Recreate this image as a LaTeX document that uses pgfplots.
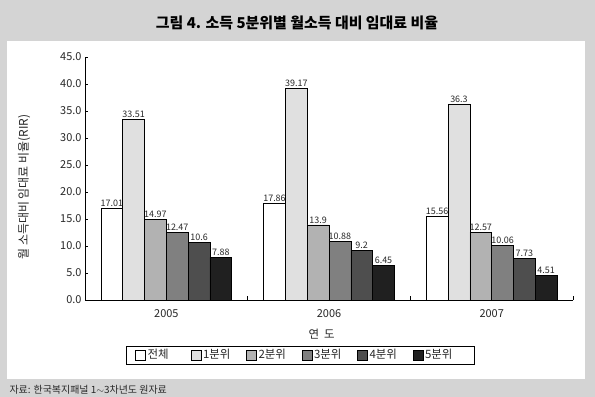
\documentclass[border=0pt]{standalone}
\usepackage{pgfplots}
\pgfplotsset{compat=1.18}
\usepackage{fontspec}
\setmainfont{Noto Sans CJK KR}
\definecolor{bgcol}{RGB}{212,212,212}
\definecolor{txt}{RGB}{40,40,40}
\definecolor{c1}{RGB}{255,255,255}
\definecolor{c2}{RGB}{224,224,224}
\definecolor{c3}{RGB}{178,178,178}
\definecolor{c4}{RGB}{128,128,128}
\definecolor{c5}{RGB}{78,78,78}
\definecolor{c6}{RGB}{32,32,32}
\begin{document}
\begin{tikzpicture}
\useasboundingbox (0bp,0bp) rectangle (595bp,-397bp);
\fill[bgcol] (0bp,0bp) rectangle (595bp,-397bp);
\fill[white] (7bp,-41bp) rectangle (585bp,-379bp);
\node[font=\fontsize{15}{17}\selectfont\bfseries, text=black] at (297bp,-23bp) {그림 4. 소득 5분위별 월소득 대비 임대료 비율};
\node[anchor=west, font=\fontsize{10}{12}\selectfont, text=txt] at (6bp,-389.5bp) {자료: 한국복지패널 1$\sim$3차년도 원자료};
\begin{axis}[
  at={(85bp,-300bp)}, anchor=south west,
  scale only axis, width=488bp, height=243bp,
  ybar=0pt, bar width=21.8bp,
  xmin=-0.5, xmax=2.5, ymin=0, ymax=45,
  axis x line*=bottom, axis y line*=left,
  axis line style={-, black, line width=0.6pt},
  xtick={0,1,2}, xticklabels={2005,2006,2007},
  major x tick style={draw=none},
  minor xtick={-0.5,0.5,1.5,2.5},
  minor x tick style={black, line width=0.6pt},
  minor tick length=4bp,
  ytick={0,5,...,45},
  major y tick style={black, line width=0.6pt},
  major tick length=3bp,
  tick align=inside,
  /pgf/number format/assume math mode=true,
  yticklabel style={/pgf/number format/.cd, fixed, fixed zerofill, precision=1},
  ticklabel style={font=\fontsize{11}{13}\selectfont, text=txt},
  xticklabel style={yshift=-6bp},
  xlabel={연\ \ 도},
  xlabel style={font=\fontsize{11.5}{13}\selectfont, text=txt, at={(axis description cs:0.485,-0.14)}, anchor=center},
  ylabel={월 소득대비 임대료 비율(RIR)},
  ylabel style={font=\fontsize{12}{14}\selectfont, text=txt, at={(axis description cs:-0.125,0.465)}, anchor=center},
  nodes near coords,
  point meta=explicit symbolic,
  every node near coord/.append style={font=\fontsize{9}{11}\selectfont, text=txt, inner sep=1.5bp},
  legend columns=6,
  legend style={at={(axis description cs:0.4406,-0.226)}, anchor=center, draw=black, line width=0.6pt,
    font=\fontsize{11.5}{13}\selectfont, text=txt, inner ysep=1.5bp, inner xsep=9bp,
    /tikz/every even column/.append style={column sep=3bp},
    nodes={text width=38bp, align=left, inner xsep=2bp}},
  legend image code/.code={\draw[#1, draw=black, line width=0.5pt] (0bp,-5bp) rectangle (10bp,5bp);},
  every axis plot/.append style={draw=black, line width=0.6pt},
]
\addplot[fill=c1] coordinates {(0,17.01)[17.01] (1,17.86)[17.86] (2,15.56)[15.56]};
\addplot[fill=c2] coordinates {(0,33.51)[33.51] (1,39.17)[39.17] (2,36.3)[36.3]};
\addplot[fill=c3] coordinates {(0,14.97)[14.97] (1,13.9)[13.9] (2,12.57)[12.57]};
\addplot[fill=c4] coordinates {(0,12.47)[12.47] (1,10.88)[10.88] (2,10.06)[10.06]};
\addplot[fill=c5] coordinates {(0,10.6)[10.6] (1,9.2)[9.2] (2,7.73)[7.73]};
\addplot[fill=c6] coordinates {(0,7.88)[7.88] (1,6.45)[6.45] (2,4.51)[4.51]};
\legend{전체,1분위,2분위,3분위,4분위,5분위}
\end{axis}
\end{tikzpicture}
\end{document}
